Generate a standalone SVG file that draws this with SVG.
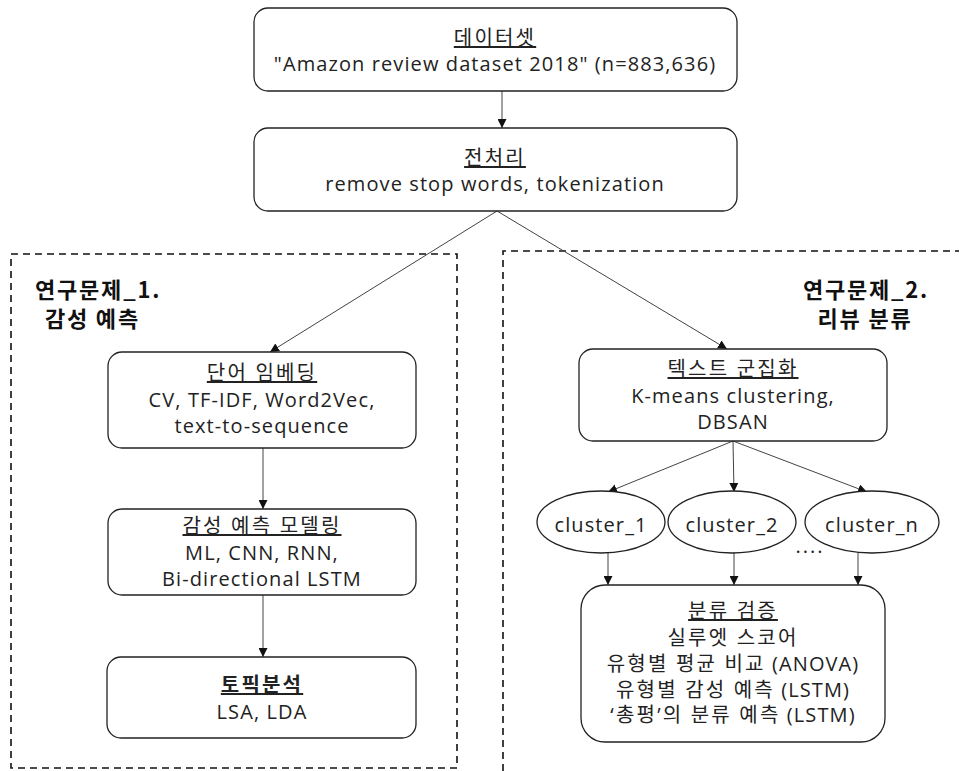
<svg xmlns="http://www.w3.org/2000/svg" width="959" height="771" viewBox="0 0 959 771">
<style>
  .box { fill: #fff; stroke: #222; stroke-width: 1.3; }
  .grp { fill: none; stroke: #111; stroke-width: 1.6; stroke-dasharray: 7 5; }
  .t { font-family: "Open Sans", "Noto Sans CJK KR", sans-serif; font-size: 20px; letter-spacing: 1.1px; fill: #222; text-anchor: middle; }
  .k { letter-spacing: 2.2px; }
  .h { font-family: "Noto Sans CJK KR", sans-serif; font-size: 22px; letter-spacing: 1.8px; font-weight: bold; fill: #111; }
  .u { text-decoration: underline; }
  .b { font-weight: bold; }
  .edge { fill: none; stroke: #444; stroke-width: 1; marker-end: url(#arr); }
</style>
<defs>
  <marker id="arr" viewBox="0 0 10 10" refX="10" refY="5" markerWidth="9" markerHeight="9" markerUnits="userSpaceOnUse" orient="auto">
    <path d="M0,0 L10,5 L0,10 z" fill="#111"/>
  </marker>
</defs>
<rect width="959" height="771" fill="#fff"/>

<g id="group1">
  <rect class="grp" x="11" y="254" width="446" height="514"/>
  <text class="h" x="35" y="298">연구문제_1.</text>
  <text class="h" x="45" y="327">감성 예측</text>
</g>
<g id="group2">
  <path class="grp" d="M503,771 L503,251 L962,251"/>
  <text class="h" x="866" y="298" text-anchor="middle">연구문제_2.</text>
  <text class="h" x="865" y="327" text-anchor="middle">리뷰 분류</text>
</g>

<g id="connectors">
  <line class="edge" x1="502" y1="91" x2="502" y2="128"/>
  <line class="edge" x1="497" y1="211" x2="270" y2="352"/>
  <line class="edge" x1="497" y1="211" x2="727" y2="349"/>
  <line class="edge" x1="263" y1="448" x2="263" y2="509"/>
  <line class="edge" x1="263" y1="595" x2="263" y2="657"/>
  <line class="edge" x1="733" y1="441" x2="608" y2="492"/>
  <line class="edge" x1="733" y1="441" x2="734" y2="492"/>
  <line class="edge" x1="733" y1="441" x2="867" y2="492"/>
  <line class="edge" x1="608" y1="553" x2="608" y2="585"/>
  <line class="edge" x1="734" y1="553" x2="734" y2="585"/>
  <line class="edge" x1="858" y1="553" x2="858" y2="585"/>
</g>

<g id="dataset">
  <rect class="box" x="254" y="8" width="483" height="83" rx="14"/>
  <text class="t k" x="495" y="45"><tspan class="u">데이터셋</tspan></text>
  <text class="t" x="495" y="71">"Amazon review dataset 2018" (n=883,636)</text>
</g>
<g id="preprocess">
  <rect class="box" x="254" y="128" width="483" height="83" rx="14"/>
  <text class="t k" x="495" y="165"><tspan class="u">전처리</tspan></text>
  <text class="t" x="495" y="191">remove stop words, tokenization</text>
</g>
<g id="embedding">
  <rect class="box" x="108" y="352" width="308" height="96" rx="14"/>
  <text class="t k" x="262" y="380"><tspan class="u">단어 임베딩</tspan></text>
  <text class="t" x="262" y="407">CV, TF-IDF, Word2Vec,</text>
  <text class="t" x="262" y="433">text-to-sequence</text>
</g>
<g id="modeling">
  <rect class="box" x="108" y="509" width="308" height="86" rx="14"/>
  <text class="t k" x="262" y="533"><tspan class="u">감성 예측 모델링</tspan></text>
  <text class="t" x="262" y="560">ML, CNN, RNN,</text>
  <text class="t" x="262" y="586">Bi-directional LSTM</text>
</g>
<g id="topic">
  <rect class="box" x="107" y="657" width="309" height="81" rx="14"/>
  <text class="t k b" x="262" y="692"><tspan class="u">토픽분석</tspan></text>
  <text class="t" x="262" y="719">LSA, LDA</text>
</g>
<g id="clustering">
  <rect class="box" x="579" y="349" width="308" height="92" rx="14"/>
  <text class="t k" x="733" y="376"><tspan class="u">텍스트 군집화</tspan></text>
  <text class="t" x="733" y="403">K-means clustering,</text>
  <text class="t" x="733" y="429">DBSAN</text>
</g>
<g id="cluster1">
  <ellipse class="box" cx="601" cy="522" rx="64" ry="31"/>
  <text class="t" x="601" y="532">cluster_1</text>
</g>
<g id="cluster2">
  <ellipse class="box" cx="732" cy="522" rx="64" ry="31"/>
  <text class="t" x="732" y="532">cluster_2</text>
</g>
<g id="clustern">
  <ellipse class="box" cx="872" cy="522" rx="67" ry="31"/>
  <text class="t" x="872" y="532">cluster_n</text>
</g>
<text class="t" x="810" y="553" style="letter-spacing:2px">....</text>
<g id="validation">
  <rect class="box" x="581" y="585" width="304" height="157" rx="24"/>
  <text class="t k" x="733" y="618"><tspan class="u">분류 검증</tspan></text>
  <text class="t k" x="733" y="645">실루엣 스코어</text>
  <text class="t" x="733" y="671"><tspan class="k">유형별 평균 비교</tspan> (ANOVA)</text>
  <text class="t" x="733" y="697"><tspan class="k">유형별 감성 예측</tspan> (LSTM)</text>
  <text class="t" x="733" y="722"><tspan class="k">‘총평’의 분류 예측</tspan> (LSTM)</text>
</g>
</svg>
